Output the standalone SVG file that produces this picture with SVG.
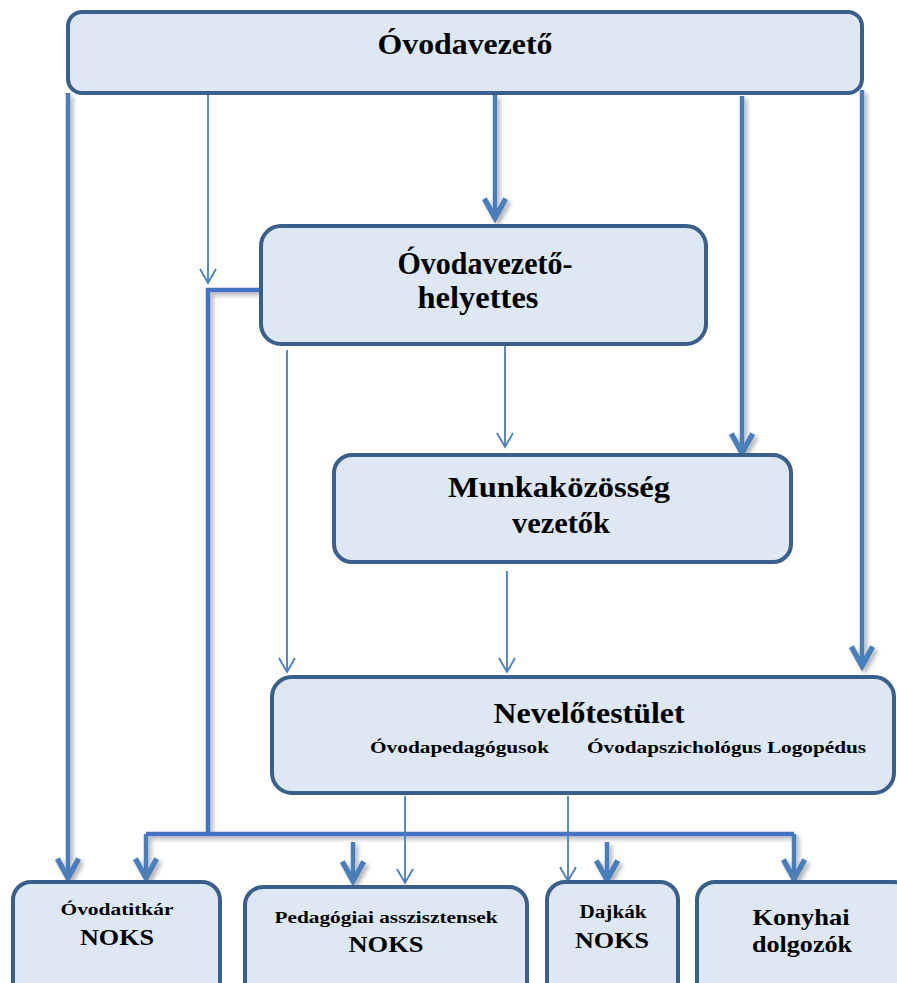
<svg xmlns="http://www.w3.org/2000/svg" width="897" height="983" viewBox="0 0 897 983">
<defs>
<style>
.box{fill:#dde8f4;stroke:#3b5f8c;stroke-width:4}
.t{font-family:'Liberation Serif',serif;font-weight:bold;fill:#000;text-anchor:middle}
.thick{fill:none;stroke:#4a7ebb;stroke-width:4.5}
.bus{fill:none;stroke:#4472c4;stroke-width:4.5}
.thin{fill:none;stroke:#4a7ebb;stroke-width:1.8}
</style>
<filter id="sh" x="-50%" y="-5%" width="200%" height="110%">
<feDropShadow dx="3" dy="3" stdDeviation="2" flood-color="#000" flood-opacity="0.3"/>
</filter>
<marker id="ah" markerUnits="userSpaceOnUse" markerWidth="30" markerHeight="30" viewBox="-24 -14 28 28" refX="0" refY="0" orient="auto" overflow="visible">
<path d="M-19,-10 L-1,0 L-19,10" fill="none" stroke="#4a7ebb" stroke-width="5" stroke-linejoin="miter"/>
</marker>
<marker id="at" markerUnits="userSpaceOnUse" markerWidth="20" markerHeight="20" viewBox="-18 -10 20 20" refX="0" refY="0" orient="auto" overflow="visible">
<path d="M-14,-8 L0,0 L-14,8" fill="none" stroke="#4a7ebb" stroke-width="1.8"/>
</marker>
</defs>

<g id="connectors">
<g filter="url(#sh)">
<path class="thick" d="M68,93 V879" marker-end="url(#ah)"/>
<path class="thick" d="M495,95 V219" marker-end="url(#ah)"/>
<path class="thick" d="M742,96 V454" marker-end="url(#ah)"/>
<path class="thick" d="M862,90 V667" marker-end="url(#ah)"/>
<path class="bus" d="M261,290 H208 V836"/>
<path class="bus" d="M146,834 H794"/>
<path class="thick" d="M146,834 V879" marker-end="url(#ah)"/>
<path class="thick" d="M794,834 V880" marker-end="url(#ah)"/>
<path class="thick" d="M353,842 V882" marker-end="url(#ah)"/>
<path class="thick" d="M607,842 V881" marker-end="url(#ah)"/>
</g>
<path class="thin" d="M208,89 V283" marker-end="url(#at)"/>
<path class="thin" d="M287,350 V672" marker-end="url(#at)"/>
<path class="thin" d="M505,344 V447" marker-end="url(#at)"/>
<path class="thin" d="M507,571 V672" marker-end="url(#at)"/>
<path class="thin" d="M405,796 V883" marker-end="url(#at)"/>
<path class="thin" d="M568,796 V881" marker-end="url(#at)"/>
</g>

<g id="ovodavezeto">
<rect class="box" x="68" y="12" width="794" height="81" rx="14"/>
<text class="t" x="465" y="54" font-size="29" textLength="175" lengthAdjust="spacingAndGlyphs">Óvodavezető</text>
</g>

<g id="helyettes">
<rect class="box" x="261" y="226" width="445" height="118" rx="20"/>
<text class="t" x="485" y="274" font-size="31" textLength="175" lengthAdjust="spacingAndGlyphs">Óvodavezető-</text>
<text class="t" x="478" y="308" font-size="31" textLength="121" lengthAdjust="spacingAndGlyphs">helyettes</text>
</g>

<g id="munkakozosseg">
<rect class="box" x="334" y="455" width="457" height="107" rx="18"/>
<text class="t" x="559" y="497" font-size="30" textLength="222" lengthAdjust="spacingAndGlyphs">Munkaközösség</text>
<text class="t" x="561" y="533" font-size="30" textLength="98" lengthAdjust="spacingAndGlyphs">vezetők</text>
</g>

<g id="nevelotestulet">
<rect class="box" x="272" y="677" width="622" height="116" rx="20"/>
<text class="t" x="589" y="723" font-size="29" textLength="191" lengthAdjust="spacingAndGlyphs">Nevelőtestület</text>
<text class="t" x="459.5" y="753" font-size="16" textLength="179" lengthAdjust="spacingAndGlyphs">Óvodapedagógusok</text>
<text class="t" x="726.5" y="753" font-size="16" textLength="279" lengthAdjust="spacingAndGlyphs">Óvodapszichológus Logopédus</text>
</g>

<g id="ovodatitkar">
<rect class="box" x="13" y="882" width="207" height="125" rx="18"/>
<text class="t" x="117" y="915" font-size="17" textLength="113" lengthAdjust="spacingAndGlyphs">Óvodatitkár</text>
<text class="t" x="117" y="945" font-size="24" textLength="74" lengthAdjust="spacingAndGlyphs">NOKS</text>
</g>

<g id="pedasszisztensek">
<rect class="box" x="245" y="887" width="282" height="125" rx="18"/>
<text class="t" x="386" y="923" font-size="17" textLength="223" lengthAdjust="spacingAndGlyphs">Pedagógiai asszisztensek</text>
<text class="t" x="386" y="952" font-size="24" textLength="75" lengthAdjust="spacingAndGlyphs">NOKS</text>
</g>

<g id="dajkak">
<rect class="box" x="547" y="882" width="131" height="125" rx="18"/>
<text class="t" x="613" y="918" font-size="18" textLength="67" lengthAdjust="spacingAndGlyphs">Dajkák</text>
<text class="t" x="612" y="948" font-size="24" textLength="74" lengthAdjust="spacingAndGlyphs">NOKS</text>
</g>

<g id="konyhai">
<rect class="box" x="697" y="882" width="215" height="125" rx="18"/>
<text class="t" x="801" y="925" font-size="24" textLength="97" lengthAdjust="spacingAndGlyphs">Konyhai</text>
<text class="t" x="802" y="952" font-size="24" textLength="100" lengthAdjust="spacingAndGlyphs">dolgozók</text>
</g>
</svg>
